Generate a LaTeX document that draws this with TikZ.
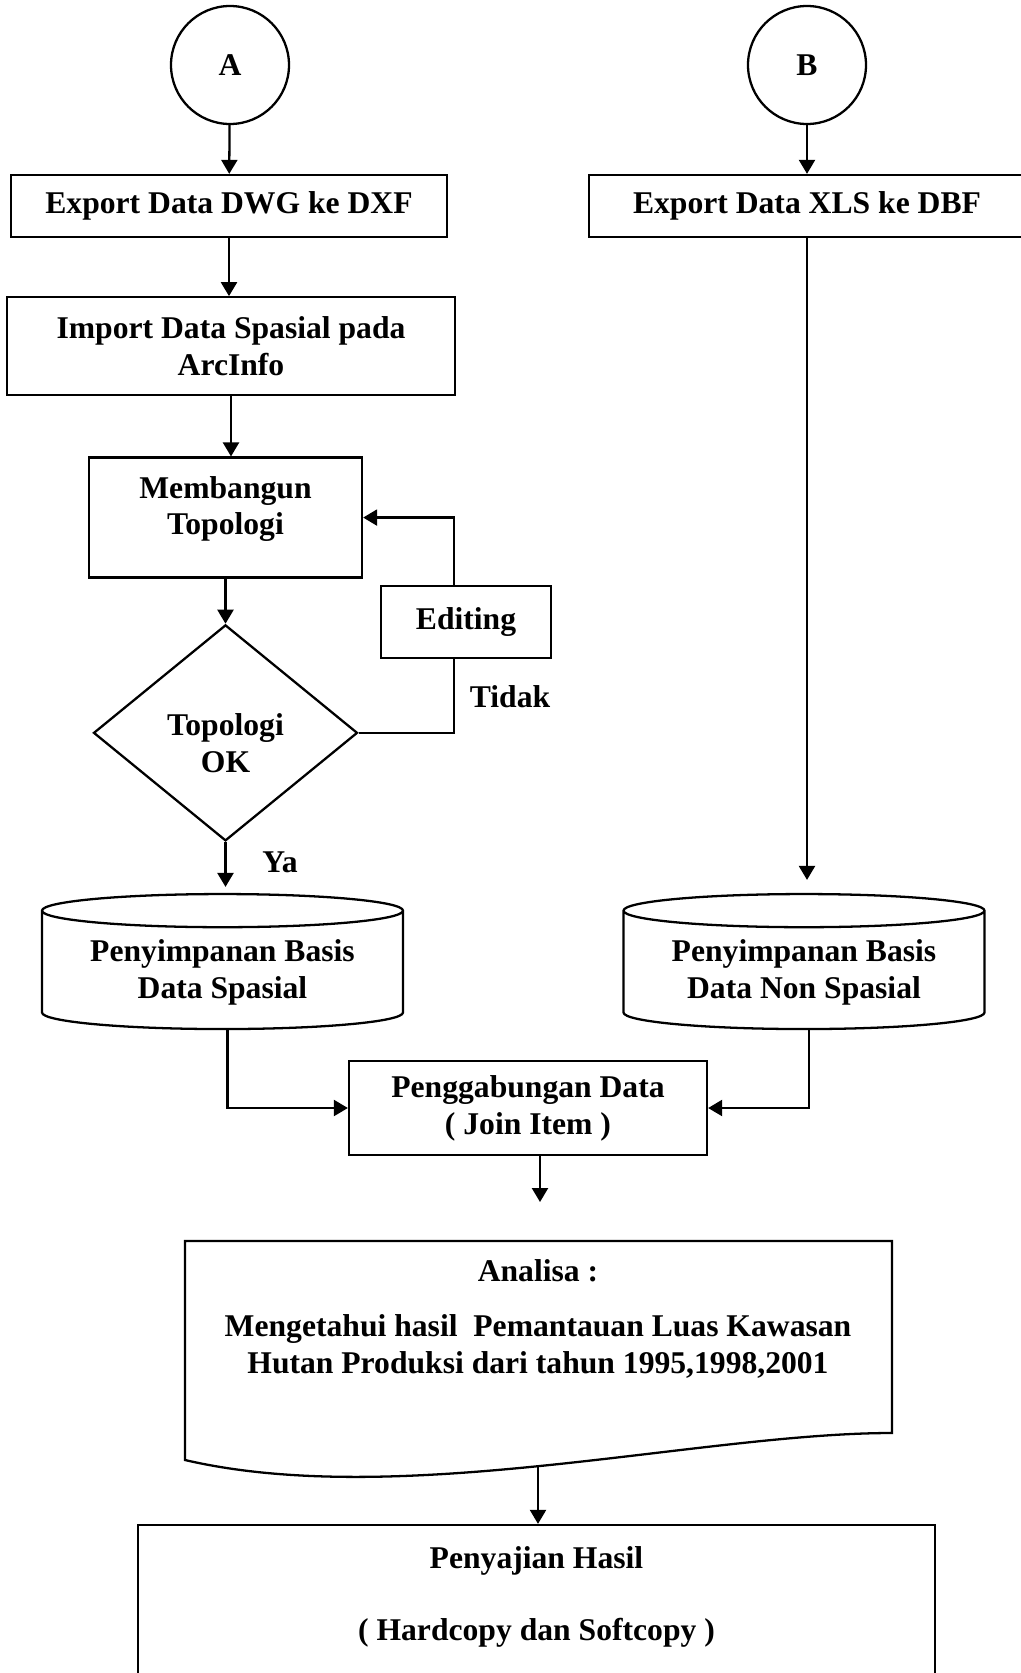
\documentclass[tikz,border=0pt]{standalone}
\usepackage{fontspec}
\setmainfont{Liberation Serif}
\usetikzlibrary{arrows.meta,positioning,calc,shapes.geometric}
\tikzset{
  flow/.style={draw,line width=1.3pt,align=center,inner sep=2pt},
  conn/.style={circle,draw,line width=1.3pt,minimum size=2.36cm,inner sep=0pt},
  decision/.style={diamond,draw,line width=1.3pt,minimum width=5.28cm,
    minimum height=4.32cm,inner sep=0pt},
  store/.style={cylinder,shape border rotate=90,draw,line width=1.3pt,aspect=.12,
    minimum width=7.22cm,minimum height=2.70cm,align=center},
  tag/.style={inner sep=0pt},
  arrow/.style={-{Triangle[length=.28cm,width=.32cm]},line width=1.3pt}
}

\begin{document}
\begin{tikzpicture}[font=\fontsize{18pt}{21pt}\selectfont\bfseries,line width=1.3pt]
    \useasboundingbox (0,0) rectangle (20.4,-33.46);

    % dua jalur masukan
    \node[conn] (A) at (4.60,-1.30) {A};
    \node[conn] (B) at (16.14,-1.30) {B};
    \node[flow,minimum width=8.72cm,minimum height=1.24cm] (dwg) at (4.58,-4.12) {Export Data DWG ke DXF};
    \node[flow,minimum width=8.72cm,minimum height=1.24cm] (xls) at (16.14,-4.12) {Export Data XLS ke DBF};
    \node[flow,minimum width=8.96cm,minimum height=1.96cm,below=1.16cm of dwg,xshift=.04cm] (import) {Import Data Spasial pada\\ArcInfo};
    \node[flow,minimum width=5.46cm,minimum height=2.40cm,text depth=.48cm,below=1.20cm of import,xshift=-.11cm] (bangun) {Membangun\\Topologi};
    \node[decision,below=.90cm of bangun,label={[align=center,yshift=-.2cm]center:Topologi\\OK}] (cek) {};
    \node[flow,minimum width=3.40cm,minimum height=1.44cm] (edit) at (9.32,-12.44) {Editing};
    \node[tag] (tidak) at (10.20,-13.94) {Tidak};
    \node[tag] (ya) at (5.60,-17.24) {Ya};

    \draw[arrow] (A) -- (dwg);
    \draw[arrow] (B) -- (xls);
    \draw[arrow] (dwg) -- (dwg |- import.north);
    \draw[arrow] (import) -- (import |- bangun.north);
    \draw[arrow] (bangun) -- (bangun |- cek.north);
    \draw (cek.east) -| ($(edit.south)+(-.24,0)$);
    \draw[arrow] ($(edit.north)+(-.24,0)$) |- (bangun.east);

    % penyimpanan dan penggabungan
    \node[store] (spasial) at (4.45,-19.45) {Penyimpanan Basis\\Data Spasial};
    \node[store] (nonspasial) at (16.08,-19.45) {Penyimpanan Basis\\Data Non Spasial};
    \node[flow,minimum width=7.16cm,minimum height=1.88cm] (gabung) at (10.56,-22.16) {Penggabungan Data\\( Join Item )};
    \coordinate (gabungend) at (10.80,-24.04);

    \draw[arrow,shorten >=.12cm] (cek) -- (cek |- spasial.north);
    \draw[arrow,shorten >=.26cm] (xls) -- (xls |- nonspasial.north);
    \draw[arrow] ($(spasial.south)+(.1,0)$) |- (gabung.west);
    \draw[arrow] ($(nonspasial.south)+(.1,0)$) |- (gabung.east);
    \draw[arrow] (gabung.south -| gabungend) -- (gabungend);

    % dokumen analisa
    \draw (3.70,-24.82) -- (17.84,-24.82) -- (17.84,-28.66)
      .. controls (14.00,-28.66) and (8.00,-30.20) .. (3.70,-29.20) -- cycle;
    \node[tag,align=center] (analisa) at (10.76,-26.38) {Analisa :\\[.36cm]Mengetahui hasil\ \ Pemantauan Luas Kawasan\\Hutan Produksi dari tahun 1995,1998,2001};
    \coordinate (wave) at (10.76,-29.32);

    \node[flow,minimum width=15.94cm,minimum height=4cm,text depth=1.26cm] (hasil) at (10.73,-32.50) {Penyajian Hasil\\[.7cm]( Hardcopy dan Softcopy )};
    \draw[arrow] (wave) -- (wave |- hasil.north);
\end{tikzpicture}
\end{document}
